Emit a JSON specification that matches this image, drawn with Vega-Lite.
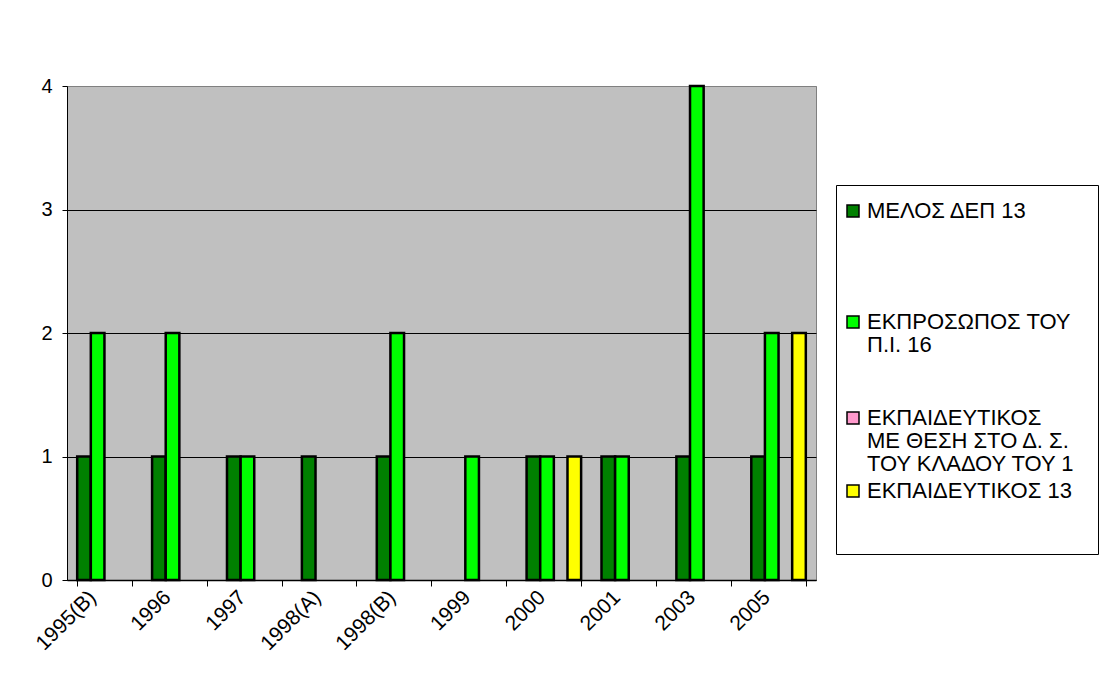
{
  "$schema": "https://vega.github.io/schema/vega-lite/v6.json",
  "width": 749,
  "height": 494,
  "autosize": {"type": "none"},
  "padding": {"left": 67, "top": 86, "right": 294, "bottom": 104},
  "background": "white",
  "config": {
    "view": {"stroke": "#808080", "strokeWidth": 1, "fill": "#C0C0C0"},
    "font": "Liberation Sans"
  },
  "data": {
    "values": [
      {"cat": "1995(B)", "series": "ΜΕΛΟΣ ΔΕΠ 13", "value": 1},
      {"cat": "1995(B)", "series": "ΕΚΠΡΟΣΩΠΟΣ ΤΟΥ|Π.Ι. 16", "value": 2},
      {"cat": "1996", "series": "ΜΕΛΟΣ ΔΕΠ 13", "value": 1},
      {"cat": "1996", "series": "ΕΚΠΡΟΣΩΠΟΣ ΤΟΥ|Π.Ι. 16", "value": 2},
      {"cat": "1997", "series": "ΜΕΛΟΣ ΔΕΠ 13", "value": 1},
      {"cat": "1997", "series": "ΕΚΠΡΟΣΩΠΟΣ ΤΟΥ|Π.Ι. 16", "value": 1},
      {"cat": "1998(A)", "series": "ΜΕΛΟΣ ΔΕΠ 13", "value": 1},
      {"cat": "1998(B)", "series": "ΜΕΛΟΣ ΔΕΠ 13", "value": 1},
      {"cat": "1998(B)", "series": "ΕΚΠΡΟΣΩΠΟΣ ΤΟΥ|Π.Ι. 16", "value": 2},
      {"cat": "1999", "series": "ΕΚΠΡΟΣΩΠΟΣ ΤΟΥ|Π.Ι. 16", "value": 1},
      {"cat": "2000", "series": "ΜΕΛΟΣ ΔΕΠ 13", "value": 1},
      {"cat": "2000", "series": "ΕΚΠΡΟΣΩΠΟΣ ΤΟΥ|Π.Ι. 16", "value": 1},
      {"cat": "2000", "series": "ΕΚΠΑΙΔΕΥΤΙΚΟΣ 13", "value": 1},
      {"cat": "2001", "series": "ΜΕΛΟΣ ΔΕΠ 13", "value": 1},
      {"cat": "2001", "series": "ΕΚΠΡΟΣΩΠΟΣ ΤΟΥ|Π.Ι. 16", "value": 1},
      {"cat": "2003", "series": "ΜΕΛΟΣ ΔΕΠ 13", "value": 1},
      {"cat": "2003", "series": "ΕΚΠΡΟΣΩΠΟΣ ΤΟΥ|Π.Ι. 16", "value": 4},
      {"cat": "2005", "series": "ΜΕΛΟΣ ΔΕΠ 13", "value": 1},
      {"cat": "2005", "series": "ΕΚΠΡΟΣΩΠΟΣ ΤΟΥ|Π.Ι. 16", "value": 2},
      {"cat": "2005", "series": "ΕΚΠΑΙΔΕΥΤΙΚΟΣ 13", "value": 2}
    ]
  },
  "mark": {"type": "bar", "stroke": "black", "strokeWidth": 2.5},
  "encoding": {
    "x": {
      "field": "cat",
      "type": "nominal",
      "sort": ["1995(B)", "1996", "1997", "1998(A)", "1998(B)", "1999", "2000", "2001", "2003", "2005"],
      "scale": {"paddingInner": 0.272, "paddingOuter": 0.136},
      "axis": {
        "title": null,
        "labelAngle": -45,
        "labelAlign": "right",
        "labelBaseline": "middle",
        "labelFontSize": 21,
        "labelColor": "black",
        "labelPadding": 8,
        "labelOffset": -12,
        "tickBand": "extent",
        "tickColor": "black",
        "tickSize": 6,
        "domainColor": "black",
        "domainWidth": 1.5,
        "grid": false
      }
    },
    "xOffset": {
      "field": "series",
      "type": "nominal",
      "scale": {
        "domain": ["ΜΕΛΟΣ ΔΕΠ 13", "ΕΚΠΡΟΣΩΠΟΣ ΤΟΥ|Π.Ι. 16", "ΕΚΠΑΙΔΕΥΤΙΚΟΣ|ΜΕ ΘΕΣΗ ΣΤΟ Δ. Σ.|ΤΟΥ ΚΛΑΔΟΥ ΤΟΥ 1", "ΕΚΠΑΙΔΕΥΤΙΚΟΣ 13"],
        "paddingInner": 0,
        "paddingOuter": 0
      }
    },
    "y": {
      "field": "value",
      "type": "quantitative",
      "scale": {"domain": [0, 4]},
      "axis": {
        "title": null,
        "values": [0, 1, 2, 3, 4],
        "format": "d",
        "grid": true,
        "gridColor": {"condition": {"test": "datum.value === 4", "value": "#808080"}, "value": "black"},
        "gridWidth": 1,
        "domainColor": "black",
        "tickColor": "black",
        "tickSize": 5,
        "labelPadding": 10,
        "labelFontSize": 20,
        "labelColor": "black"
      }
    },
    "color": {
      "field": "series",
      "type": "nominal",
      "scale": {
        "domain": ["ΜΕΛΟΣ ΔΕΠ 13", "ΕΚΠΡΟΣΩΠΟΣ ΤΟΥ|Π.Ι. 16", "ΕΚΠΑΙΔΕΥΤΙΚΟΣ|ΜΕ ΘΕΣΗ ΣΤΟ Δ. Σ.|ΤΟΥ ΚΛΑΔΟΥ ΤΟΥ 1", "ΕΚΠΑΙΔΕΥΤΙΚΟΣ 13"],
        "range": ["#008000", "#00FF00", "#FF99CC", "#FFFF00"]
      },
      "legend": {
        "title": " ",
        "titleFontSize": 9,
        "titlePadding": 0,
        "orient": "none",
        "legendX": 769,
        "legendY": 99,
        "direction": "vertical",
        "strokeColor": "black",
        "padding": 6,
        "symbolType": "square",
        "symbolSize": 144,
        "symbolStrokeColor": "black",
        "symbolStrokeWidth": 1.5,
        "symbolOpacity": 1,
        "labelFontSize": 22,
        "labelColor": "black",
        "labelLimit": 400,
        "labelOffset": 3,
        "rowPadding": 5,
        "labelBaseline": "top",
        "labelExpr": "split(datum.label === 'ΜΕΛΟΣ ΔΕΠ 13' ? datum.label + '||||' : datum.label === 'ΕΚΠΡΟΣΩΠΟΣ ΤΟΥ|Π.Ι. 16' ? datum.label + '||' : datum.label === 'ΕΚΠΑΙΔΕΥΤΙΚΟΣ 13' ? datum.label + '||' : datum.label + '\u2800', '|')",
        "encode": {"labels": {"update": {"dy": {"value": -10}, "lineHeight": {"signal": "datum.label === 'ΜΕΛΟΣ ΔΕΠ 13' ? 21 : 23"}}}}
      }
    }
  }
}
